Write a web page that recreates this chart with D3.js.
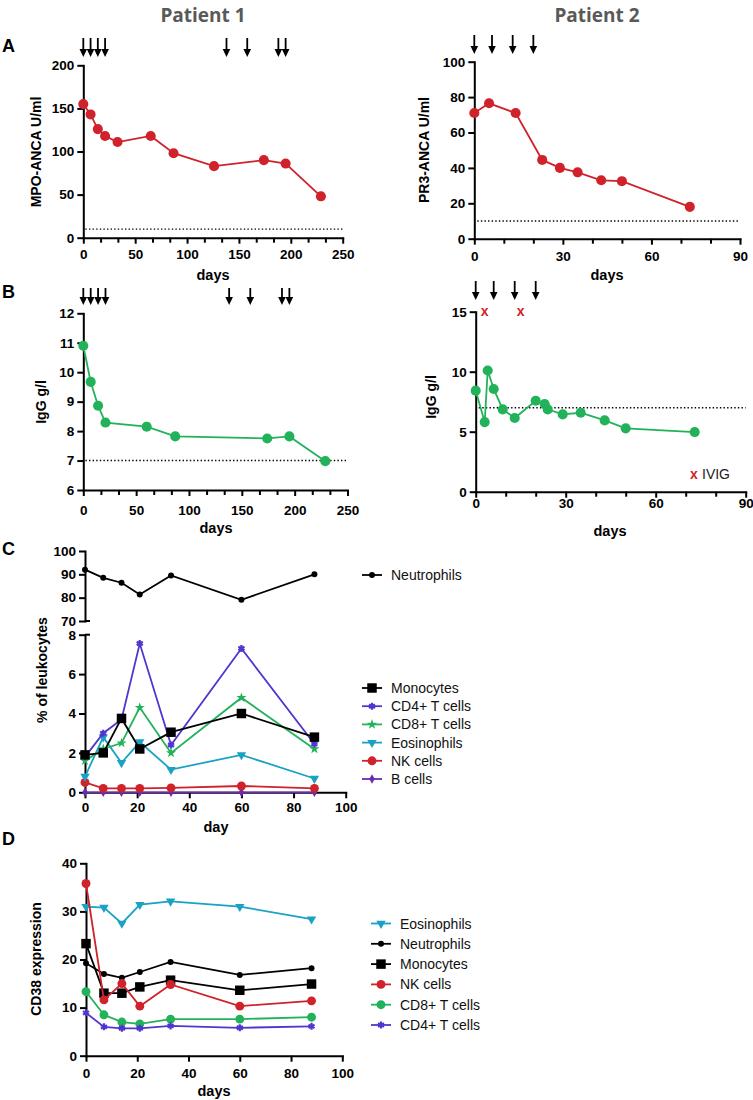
<!DOCTYPE html>
<html><head><meta charset="utf-8">
<script src="https://cdn.jsdelivr.net/npm/d3@7"></script>
<style>
body{margin:0;background:#fff;}
svg{display:block;font-family:"Liberation Sans",Arial,sans-serif;}
</style></head><body>
<svg id="c" width="753" height="1100"></svg>
<script>
// ---------- DATA ----------
// Panel A
const p1AncaDays = [0, 7, 14, 21, 33, 65, 87, 126, 174, 195, 229];
const p1Mpo      = [155, 143, 126, 118, 111, 118, 98, 83, 90, 86, 48];
const p1ArrowDays = [0, 7, 14, 21, 138, 158, 188, 195];
const p2AncaDays = [0, 5, 14, 23, 29, 35, 43, 50, 73];
const p2Pr3      = [71, 76.5, 71, 44.5, 40, 37.5, 33, 32.5, 18];
const p2ArrowDays = [0, 6, 13, 20];
const ancaCutoff = 10;
// Panel B
const p1IggDays = [0, 7, 14, 21, 60, 87, 174, 195, 229];
const p1Igg     = [10.9, 9.67, 8.86, 8.29, 8.15, 7.82, 7.75, 7.82, 6.98];
const p2IggDays = [0, 3, 4, 6, 9, 13, 20, 23, 24, 29, 35, 43, 50, 73];
const p2Igg     = [8.42, 5.8, 10.1, 8.56, 6.86, 6.14, 7.58, 7.3, 6.86, 6.44, 6.58, 5.94, 5.28, 4.97];
const ivigDays = [3, 15];
const ivigLevel = 15;
const iggCutoff = 7;
// Panel C (% of leukocytes)
const cellDays = [0, 7, 14, 21, 33, 60, 88];
const neutroPct = [92, 88.5, 86.4, 81.4, 89.5, 79.1, 90];
const monoPct   = [1.9, 2.0, 3.75, 2.2, 3.05, 4.0, 2.8];
const cd4Pct    = [1.8, 3.0, 3.7, 7.55, 2.4, 7.3, 2.45];
const cd8Pct    = [1.6, 2.2, 2.5, 4.3, 2.0, 4.8, 2.2];
const eosPct    = [0.8, 2.8, 1.5, 2.55, 1.15, 1.9, 0.7];
const nkPct     = [0.5, 0.2, 0.2, 0.2, 0.22, 0.32, 0.2];
const bPct      = [0, 0, 0, 0, 0, 0, 0];
// Panel D (CD38 expression)
const cd38Eos  = [31.0, 30.8, 27.5, 31.4, 32.1, 31.0, 28.4];
const cd38Neu  = [19.2, 17.0, 16.2, 17.4, 19.5, 16.8, 18.2];
const cd38Mono = [23.3, 13.0, 13.0, 14.3, 15.7, 13.6, 14.9];
const cd38NK   = [35.8, 11.6, 15.0, 10.3, 14.8, 10.3, 11.4];
const cd38CD8  = [13.3, 8.5, 7.0, 6.6, 7.6, 7.6, 8.0];
const cd38CD4  = [8.9, 6.0, 5.7, 5.7, 6.2, 5.8, 6.1];
// Ticks
const ticks250 = [0, 50, 100, 150, 200, 250];
const ticks90 = [0, 30, 60, 90];
const ticks100 = [0, 20, 40, 60, 80, 100];
const yTicksMpo = [0, 50, 100, 150, 200];
const yTicksPr3 = [0, 20, 40, 60, 80, 100];
const yTicksIgg1 = [6, 7, 8, 9, 10, 11, 12];
const yTicksIgg2 = [0, 5, 10, 15];
const yTicksCUp = [70, 80, 90, 100];
const yTicksCLo = [0, 2, 4, 6, 8];
const yTicksD = [0, 10, 20, 30, 40];

// ---------- STYLE ----------
const RED = "#d0222a", GREEN = "#22b25a", CYAN = "#1aa2c4", BLUEP = "#5035d0", PURP = "#6a2aae", BLACK = "#000";
const FONT = "'Liberation Sans', Arial, sans-serif";
const svg = d3.select("#c");
const fmt = d3.format("d");

function styleAxis(g) {
  g.select(".domain").attr("stroke", "#000").attr("stroke-width", 2).attr("stroke-linecap", "square");
  g.selectAll(".tick line").attr("stroke", "#000").attr("stroke-width", 2);
  g.selectAll(".tick text").attr("font-size", "13.5px").attr("font-weight", "bold").attr("fill", "#000")
    .attr("font-family", FONT);
}
function xAxis(x, y0, ticks, minor, pad) {
  const g = svg.append("g").attr("transform", `translate(0,${y0})`)
    .call(d3.axisBottom(x).tickValues(ticks).tickFormat(fmt).tickSize(6).tickSizeOuter(0).tickPadding(pad));
  styleAxis(g);
  if (minor && minor.length) {
    const m = svg.append("g").attr("transform", `translate(0,${y0})`)
      .call(d3.axisBottom(x).tickValues(minor).tickSize(5).tickFormat(""));
    m.select(".domain").remove();
    m.selectAll(".tick line").attr("stroke", "#000").attr("stroke-width", 2);
  }
  return g;
}
function yAxis(y, x0, ticks) {
  const g = svg.append("g").attr("transform", `translate(${x0},0)`)
    .call(d3.axisLeft(y).tickValues(ticks).tickFormat(fmt).tickSize(6).tickSizeOuter(0).tickPadding(3));
  styleAxis(g);
  return g;
}
function symbolPath(type, size) {
  return d3.symbol().type(type).size(size)();
}
function drawSeries(x, y, days, vals, color, type, size, opts = {}) {
  const data = days.map((d, i) => [d, vals[i]]);
  svg.append("path").datum(data)
    .attr("d", d3.line().x(d => x(d[0])).y(d => y(d[1])))
    .attr("fill", "none").attr("stroke", color).attr("stroke-width", opts.lw || 1.8);
  drawMarkers(x, y, data, color, type, size, opts);
}
function drawMarkers(x, y, data, color, type, size, opts = {}) {
  const stroke = opts.strokeSym;
  svg.append("g").selectAll("path").data(data).join("path")
    .attr("transform", d => `translate(${x(d[0])},${y(d[1])})` + (opts.rot ? ` rotate(${opts.rot})` : ""))
    .attr("d", symbolPath(type, size))
    .attr("fill", stroke ? "none" : color)
    .attr("stroke", stroke ? color : "none")
    .attr("stroke-width", stroke ? 2.2 : 0);
}
function arrows(x, days, yTop, yTip) {
  const g = svg.append("g");
  days.forEach(d => {
    const cx = x(d);
    g.append("line").attr("x1", cx).attr("x2", cx).attr("y1", yTop).attr("y2", yTip - 5)
      .attr("stroke", "#000").attr("stroke-width", 1.8);
    g.append("path").attr("d", `M${cx - 3.8},${yTip - 8} L${cx + 3.8},${yTip - 8} L${cx},${yTip} Z`).attr("fill", "#000");
  });
}
function dotted(x, y, v, x0, x1) {
  svg.append("line").attr("x1", x(x0)).attr("x2", x(x1)).attr("y1", y(v)).attr("y2", y(v))
    .attr("stroke", "#000").attr("stroke-width", 1.4).attr("stroke-dasharray", "1.4,2.2");
}
function text(t, x, y, o = {}) {
  const el = svg.append("text").attr("x", x).attr("y", y).text(t)
    .attr("font-size", o.size || "14px").attr("font-weight", o.weight || "bold")
    .attr("fill", o.fill || "#000").attr("text-anchor", o.anchor || "middle")
    .attr("font-family", o.family || FONT);
  if (o.rotate) el.attr("transform", `rotate(-90,${x},${y})`).attr("dominant-baseline", "central");
  return el;
}
function range(a, b, s) { const r = []; for (let v = a; v <= b + 1e-9; v += s) r.push(v); return r; }
const minor250 = range(0, 250, 50 / 3).filter(v => Math.abs(v / 50 - Math.round(v / 50)) > 1e-6);
const minor90 = range(0, 90, 10).filter(v => v % 30 !== 0);

// ---------- TITLES ----------
text("Patient 1", 203, 22, { size: "19px", fill: "#595959", family: "'Open Sans', 'Liberation Sans', sans-serif" });
text("Patient 2", 597, 22, { size: "19px", fill: "#595959", family: "'Open Sans', 'Liberation Sans', sans-serif" });
text("A", 2, 52, { size: "18px", anchor: "start" });
text("B", 2, 298, { size: "18px", anchor: "start" });
text("C", 2, 555, { size: "18px", anchor: "start" });
text("D", 2, 845, { size: "18px", anchor: "start" });

// ---------- PANEL A left ----------
{
  const x = d3.scaleLinear([0, 250], [83.3, 342.7]);
  const y = d3.scaleLinear([0, 200], [237.7, 65.3]);
  dotted(x, y, ancaCutoff, 2, 250);
  xAxis(x, 237.7, ticks250, minor250, 6);
  yAxis(y, 83.3, yTicksMpo);
  drawSeries(x, y, p1AncaDays, p1Mpo, RED, d3.symbolCircle, 80);
  arrows(x, p1ArrowDays, 38, 57);
  text("days", 213, 280, { size: "14.5px" });
  text("MPO-ANCA U/ml", 36, 152, { rotate: true });
}
// ---------- PANEL A right ----------
{
  const x = d3.scaleLinear([0, 90], [474.3, 740]);
  const y = d3.scaleLinear([0, 100], [238.7, 61.7]);
  dotted(x, y, ancaCutoff, 1, 90);
  xAxis(x, 238.7, ticks90, minor90, 7);
  yAxis(y, 474.3, yTicksPr3);
  drawSeries(x, y, p2AncaDays, p2Pr3, RED, d3.symbolCircle, 80);
  arrows(x, p2ArrowDays, 35, 54);
  text("days", 607, 280, { size: "14.5px" });
  text("PR3-ANCA U/ml", 424, 150, { rotate: true });
}
// ---------- PANEL B left ----------
{
  const x = d3.scaleLinear([0, 250], [83.3, 347.5]);
  const y = d3.scaleLinear([6, 12], [490, 313.3]);
  dotted(x, y, iggCutoff, 2, 250);
  xAxis(x, 490, ticks250, minor250, 9);
  yAxis(y, 83.3, yTicksIgg1);
  drawSeries(x, y, p1IggDays, p1Igg, GREEN, d3.symbolCircle, 80);
  arrows(x, p1ArrowDays, 288, 305);
  text("days", 216, 533, { size: "14.5px" });
  text("IgG g/l", 41, 402, { rotate: true });
}
// ---------- PANEL B right ----------
{
  const x = d3.scaleLinear([0, 90], [475.7, 745.7]);
  const y = d3.scaleLinear([0, 15], [491.7, 311.7]);
  dotted(x, y, iggCutoff, 1, 90);
  xAxis(x, 491.7, ticks90, minor90, 1);
  yAxis(y, 475.7, yTicksIgg2);
  drawSeries(x, y, p2IggDays, p2Igg, GREEN, d3.symbolCircle, 80);
  svg.append("g").selectAll("text").data(ivigDays).join("text")
    .attr("x", d => x(d)).attr("y", y(ivigLevel) + 4.5).attr("text-anchor", "middle")
    .attr("font-family", FONT)
    .attr("font-size", "14px").attr("font-weight", "bold").attr("fill", RED).text("x");
  arrows(x, p2ArrowDays, 281, 300);
  text("x", 694, 478.5, { size: "14px", fill: RED });
  text("IVIG", 702, 479, { size: "14px", weight: "normal", anchor: "start", fill: "#222" });
  text("days", 610, 536, { size: "14.5px" });
  text("IgG g/l", 431, 397, { rotate: true });
}
// ---------- PANEL C ----------
{
  const x = d3.scaleLinear([0, 100], [85, 345.7]);
  const yUp = d3.scaleLinear([70, 100], [621, 551]);
  const yLo = d3.scaleLinear([0, 8], [792.3, 634.7]);
  xAxis(x, 792.3, ticks100, [], 4);
  yAxis(yUp, 85, yTicksCUp);
  yAxis(yLo, 85, yTicksCLo);
  [yUp(70), yLo(8)].forEach(yy => {
    svg.append("line").attr("x1", 85).attr("x2", 90).attr("y1", yy).attr("y2", yy)
      .attr("stroke", "#000").attr("stroke-width", 2);
  });
  drawSeries(x, yUp, cellDays, neutroPct, BLACK, d3.symbolCircle, 28);
  drawSeries(x, yLo, cellDays, bPct, PURP, d3.symbolDiamond, 26);
  drawSeries(x, yLo, cellDays, nkPct, RED, d3.symbolCircle, 62);
  drawSeries(x, yLo, cellDays, eosPct, CYAN, d3.symbolTriangle, 38, { rot: 180 });
  drawSeries(x, yLo, cellDays, cd8Pct, GREEN, d3.symbolStar, 32);
  drawSeries(x, yLo, cellDays, cd4Pct, BLUEP, d3.symbolAsterisk, 34, { strokeSym: true });
  drawSeries(x, yLo, cellDays, monoPct, BLACK, d3.symbolSquare, 90);
  text("day", 216, 832, { size: "14.5px" });
  text("% of leukocytes", 42, 670, { rotate: true });
}
// ---------- PANEL D ----------
{
  const x = d3.scaleLinear([0, 100], [86, 342.3]);
  const y = d3.scaleLinear([0, 40], [1055.7, 863.3]);
  xAxis(x, 1055.7, ticks100, [], 6.5);
  yAxis(y, 86, yTicksD);
  drawSeries(x, y, cellDays, cd38Eos, CYAN, d3.symbolTriangle, 38, { rot: 180 });
  drawSeries(x, y, cellDays, cd38Neu, BLACK, d3.symbolCircle, 28);
  drawSeries(x, y, cellDays, cd38Mono, BLACK, d3.symbolSquare, 90);
  drawSeries(x, y, cellDays, cd38NK, RED, d3.symbolCircle, 62);
  drawSeries(x, y, cellDays, cd38CD8, GREEN, d3.symbolCircle, 62);
  drawSeries(x, y, cellDays, cd38CD4, BLUEP, d3.symbolAsterisk, 34, { strokeSym: true });
  text("days", 214, 1096, { size: "14.5px" });
  text("CD38 expression", 36, 959, { rotate: true });
}
// ---------- LEGENDS ----------
function legendRow(x0, yy, name, color, type, size, opts = {}) {
  svg.append("line").attr("x1", x0).attr("x2", x0 + 20).attr("y1", yy).attr("y2", yy)
    .attr("stroke", color).attr("stroke-width", 1.8);
  const stroke = opts.strokeSym;
  svg.append("path").attr("transform", `translate(${x0 + 10},${yy})` + (opts.rot ? ` rotate(${opts.rot})` : ""))
    .attr("d", symbolPath(type, size)).attr("fill", stroke ? "none" : color)
    .attr("stroke", stroke ? color : "none").attr("stroke-width", stroke ? 2.2 : 0);
  svg.append("text").attr("x", x0 + 29).attr("y", yy + 5).text(name)
    .attr("font-family", FONT).attr("font-size", "14px").attr("fill", "#111");
}
const cLegendNames = ["Monocytes", "CD4+ T cells", "CD8+ T cells", "Eosinophils", "NK cells", "B cells"];
const dLegendNames = ["Eosinophils", "Neutrophils", "Monocytes", "NK cells", "CD8+ T cells", "CD4+ T cells"];
legendRow(362, 575, "Neutrophils", BLACK, d3.symbolCircle, 28);
const cSyms = [
  [BLACK, d3.symbolSquare, 90, {}], [BLUEP, d3.symbolAsterisk, 34, { strokeSym: true }],
  [GREEN, d3.symbolStar, 32, {}], [CYAN, d3.symbolTriangle, 38, { rot: 180 }],
  [RED, d3.symbolCircle, 62, {}], [PURP, d3.symbolDiamond, 26, {}]];
cLegendNames.forEach((n, i) => legendRow(362, 688 + i * 18.2, n, ...cSyms[i]));
const dSyms = [
  [CYAN, d3.symbolTriangle, 38, { rot: 180 }], [BLACK, d3.symbolCircle, 28, {}],
  [BLACK, d3.symbolSquare, 90, {}], [RED, d3.symbolCircle, 62, {}],
  [GREEN, d3.symbolCircle, 62, {}], [BLUEP, d3.symbolAsterisk, 34, { strokeSym: true }]];
dLegendNames.forEach((n, i) => legendRow(371, 923.5 + i * 20.3, n, ...dSyms[i]));
</script>
</body></html>
